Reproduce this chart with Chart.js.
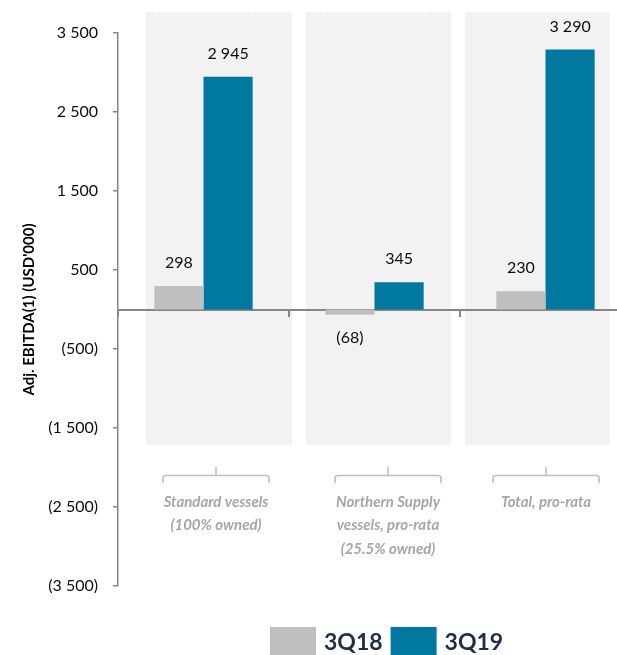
<!DOCTYPE html>
<html>
<head>
<meta charset="utf-8">
<script src="https://cdn.jsdelivr.net/npm/chart.js@4/dist/chart.umd.min.js"></script>
<style>
  html, body { margin: 0; padding: 0; background: #fff; overflow: hidden; }
  #wrap { position: relative; width: 632px; height: 655px; }
</style>
</head>
<body>
<div id="wrap"><canvas id="c"></canvas></div>
<script>
// Segments (multi-line labels) and the two quarters compared
const categories = [
  ['Standard vessels', '(100% owned)'],
  ['Northern Supply', 'vessels, pro-rata', '(25.5% owned)'],
  ['Total, pro-rata']
];
const panelHeaders = ['(100% owned)', '(25.5% owned)', 'Total'];
const seriesNames = ['3Q18', '3Q19'];
const values3Q18 = [298, -68, 230];
const values3Q19 = [2945, 345, 3290];
const seriesColors = ['#bfbfbf', '#00789f'];
const yMin = -3500, yMax = 3500, yStep = 1000;
const yTitle = "Adj. EBITDA(1) (USD'000)";

const FONT = 'Lato, "Open Sans", sans-serif';

// 2945 -> "2 945", -68 -> "(68)"
function fmt(v) {
  const s = String(Math.abs(Math.round(v))).replace(/\B(?=(\d{3})+(?!\d))/g, ' ');
  return v < 0 ? '(' + s + ')' : s;
}

// Light grey backdrop panels behind each segment
const panelPlugin = {
  id: 'panels',
  beforeDraw(chart) {
    const c = chart.ctx;
    const boxes = [[146, 292], [306, 451], [465, 610]];
    c.save();
    c.fillStyle = '#f2f2f2';
    boxes.forEach(([l, r]) => c.fillRect(l, 12, r - l, 445 - 12));
    // white header text sitting on the top edge of the panels
    const xs = chart.scales.x;
    c.fillStyle = '#ffffff';
    c.font = 'bold 16px ' + FONT;
    c.textAlign = 'center';
    c.textBaseline = 'alphabetic';
    panelHeaders.forEach((t, i) => c.fillText(t, xs.getPixelForValue(i), 12));
    c.restore();
  }
};

// Value labels at the end of each bar
const valueLabels = {
  id: 'valueLabels',
  afterDatasetsDraw(chart) {
    const c = chart.ctx;
    c.save();
    c.font = '16px ' + FONT;
    c.fillStyle = '#0d0d0d';
    c.textAlign = 'center';
    c.textBaseline = 'middle';
    chart.data.datasets.forEach((ds, di) => {
      chart.getDatasetMeta(di).data.forEach((bar, i) => {
        const v = ds.data[i];
        const y = v >= 0 ? bar.y - 23 : bar.y + 23;
        c.fillText(fmt(v), bar.x, y);
      });
    });
    c.restore();
  }
};

// Brackets and segment names under the panels
const segmentLabels = {
  id: 'segmentLabels',
  afterDraw(chart) {
    const c = chart.ctx;
    const centers = [216, 388, 546];
    const half = 53;
    c.save();
    c.strokeStyle = '#bfbfbf';
    c.lineWidth = 1.6;
    centers.forEach(cx => {
      c.beginPath();
      c.moveTo(cx - half, 483);
      c.lineTo(cx - half, 478);
      c.quadraticCurveTo(cx - half, 475.5, cx - half + 3, 475.5);
      c.lineTo(cx + half - 3, 475.5);
      c.quadraticCurveTo(cx + half, 475.5, cx + half, 478);
      c.lineTo(cx + half, 483);
      c.moveTo(cx, 475.5);
      c.lineTo(cx, 467);
      c.stroke();
    });
    c.fillStyle = '#a6a6a6';
    c.font = 'italic bold 15px ' + FONT;
    c.textAlign = 'center';
    c.textBaseline = 'middle';
    chart.data.labels.forEach((lines, i) => {
      lines.forEach((t, k) => c.fillText(t, centers[i], 502 + k * 23.5));
    });
    c.restore();
  }
};

// Legend along the bottom edge
const bottomLegend = {
  id: 'bottomLegend',
  afterDraw(chart) {
    const c = chart.ctx;
    c.save();
    c.font = 'bold 23px ' + FONT;
    c.textBaseline = 'middle';
    c.textAlign = 'left';
    let x = 270;
    chart.data.datasets.forEach(ds => {
      c.fillStyle = ds.backgroundColor;
      c.fillRect(x, 627, 46, 32);
      x += 46 + 8;
      c.fillStyle = '#1e2f45';
      c.fillText(ds.label, x, 643);
      x += c.measureText(ds.label).width + 8;
    });
    c.restore();
  }
};

new Chart(document.getElementById('c'), {
  type: 'bar',
  data: {
    labels: categories,
    datasets: [
      { label: seriesNames[0], data: values3Q18, backgroundColor: seriesColors[0] },
      { label: seriesNames[1], data: values3Q19, backgroundColor: seriesColors[1] }
    ]
  },
  options: {
    responsive: true,
    maintainAspectRatio: false,
    animation: false,
    events: [],
    layout: { padding: { top: 33, bottom: 69, left: 0, right: 1 } },
    datasets: { bar: { categoryPercentage: 0.575, barPercentage: 1 } },
    plugins: { legend: { display: false }, tooltip: { enabled: false } },
    scales: {
      x: {
        position: { y: 0 },
        grid: { drawOnChartArea: false, drawTicks: true, tickLength: 6, color: '#868686', lineWidth: 2, offset: true },
        border: { display: true, color: '#868686', width: 2 },
        ticks: { display: false }
      },
      y: {
        min: yMin, max: yMax,
        ticks: { stepSize: yStep, callback: v => fmt(v), padding: 15, color: '#0d0d0d', font: { family: FONT, size: 16 } },
        grid: { drawOnChartArea: false, drawTicks: true, tickLength: 5, color: '#868686', lineWidth: 1.5 },
        border: { display: true, color: '#868686', width: 1.5 },
        title: { display: true, text: yTitle, color: '#000', font: { family: FONT, size: 15, weight: 'bold' }, padding: { top: 20, bottom: 0 } },
        afterFit(s) { s.width = 118; }
      }
    }
  },
  plugins: [panelPlugin, valueLabels, segmentLabels, bottomLegend]
});
</script>
</body>
</html>
